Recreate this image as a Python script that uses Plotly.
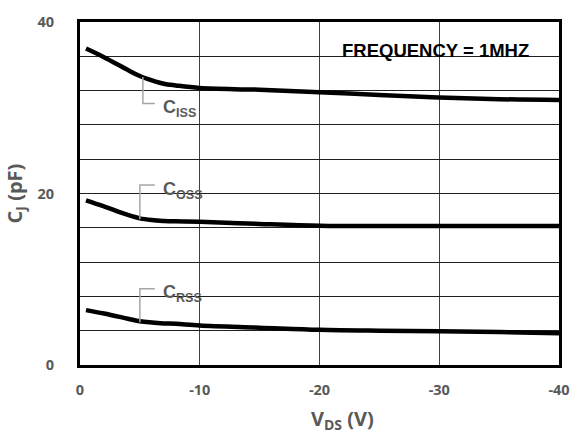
import plotly.graph_objects as go

vds = [-0.5, -2, -4, -5, -6, -7, -8, -10, -15, -20, -25, -30, -35, -40]
ciss = [36.9, 35.9, 34.4, 33.7, 33.2, 32.8, 32.6, 32.3, 32.1, 31.8, 31.5, 31.2, 31.0, 30.9]
coss = [19.2, 18.5, 17.5, 17.1, 16.9, 16.8, 16.75, 16.7, 16.45, 16.25, 16.2, 16.2, 16.2, 16.2]
crss = [6.4, 6.0, 5.4, 5.1, 4.95, 4.85, 4.8, 4.6, 4.35, 4.1, 4.0, 3.95, 3.85, 3.7]
ytick_vals = [0, 4, 8, 12, 16, 20, 24, 28, 32, 36, 40]
ytick_text = ["0", "", "", "", "", "20", "", "", "", "", "40"]
xtick_vals = [0, -10, -20, -30, -40]
xtick_text = ["0", "-10", "-20", "-30", "-40"]

label_col = "#595959"
fig = go.Figure()
for ys in (ciss, coss, crss):
    fig.add_trace(go.Scatter(x=vds, y=ys, mode="lines", line=dict(color="black", width=4.5, shape="spline"),
                             showlegend=False, hoverinfo="skip"))

# leader lines: (curve x, curve y, bend y, end x)
leaders = [(-5.25, 33.6, 30.5, -6.25), (-5.0, 17.0, 21.0, -6.25), (-5.0, 5.0, 8.9, -6.25)]
for x0, y0, y1, x1 in leaders:
    fig.add_shape(type="path", xref="x", yref="y",
                  path=f"M {x0} {y0} L {x0} {y1} L {x1} {y1}",
                  line=dict(color="#a6a6a6", width=1.5))

labels = [("C<sub>ISS</sub>", 29.9), ("C<sub>OSS</sub>", 20.4), ("C<sub>RSS</sub>", 8.3)]
for txt, yv in labels:
    fig.add_annotation(x=-6.8, y=yv, text=txt, showarrow=False, xanchor="left", yanchor="middle",
                       font=dict(family="Liberation Sans, Arial", size=18, color=label_col, weight="bold"))

fig.add_annotation(x=-29.7, y=36.7, text="FREQUENCY = 1MHZ", showarrow=False,
                   xanchor="center", yanchor="middle",
                   font=dict(family="Liberation Sans, Arial", size=18.5, color="black", weight="bold"))

title_font = dict(family="Open Sans, Liberation Sans", size=20, color=label_col, weight="bold")
# x-axis title placed as paper annotation (reference is offset right of centre)
fig.add_annotation(xref="paper", yref="paper", x=(343 - 80) / 480, y=-(421 - 365) / 350,
                   text="V<sub>DS</sub> (V)", showarrow=False, xanchor="center", yanchor="middle",
                   font=title_font)

tick_font = dict(family="Open Sans, Liberation Sans", size=14.5, color=label_col, weight="bold")
fig.update_xaxes(range=[0, -40], tickvals=xtick_vals, ticktext=xtick_text,
                 showgrid=True, gridcolor="#404040", gridwidth=1,
                 showline=True, linecolor="black", linewidth=3, mirror=True,
                 zeroline=False, ticks="", ticklabelstandoff=10, tickfont=tick_font)
fig.update_yaxes(range=[0, 40], tickvals=ytick_vals, ticktext=ytick_text,
                 showgrid=True, gridcolor="#202020", gridwidth=1,
                 showline=True, linecolor="black", linewidth=3, mirror=True,
                 zeroline=False, ticks="", ticklabelstandoff=20, tickfont=tick_font,
                 title=dict(text="C<sub>J</sub> (pF)", standoff=10, font=title_font))

fig.update_layout(width=582, height=441, margin=dict(l=80, r=22, t=15, b=76),
                  plot_bgcolor="white", paper_bgcolor="white")
fig.write_html("out.html")
